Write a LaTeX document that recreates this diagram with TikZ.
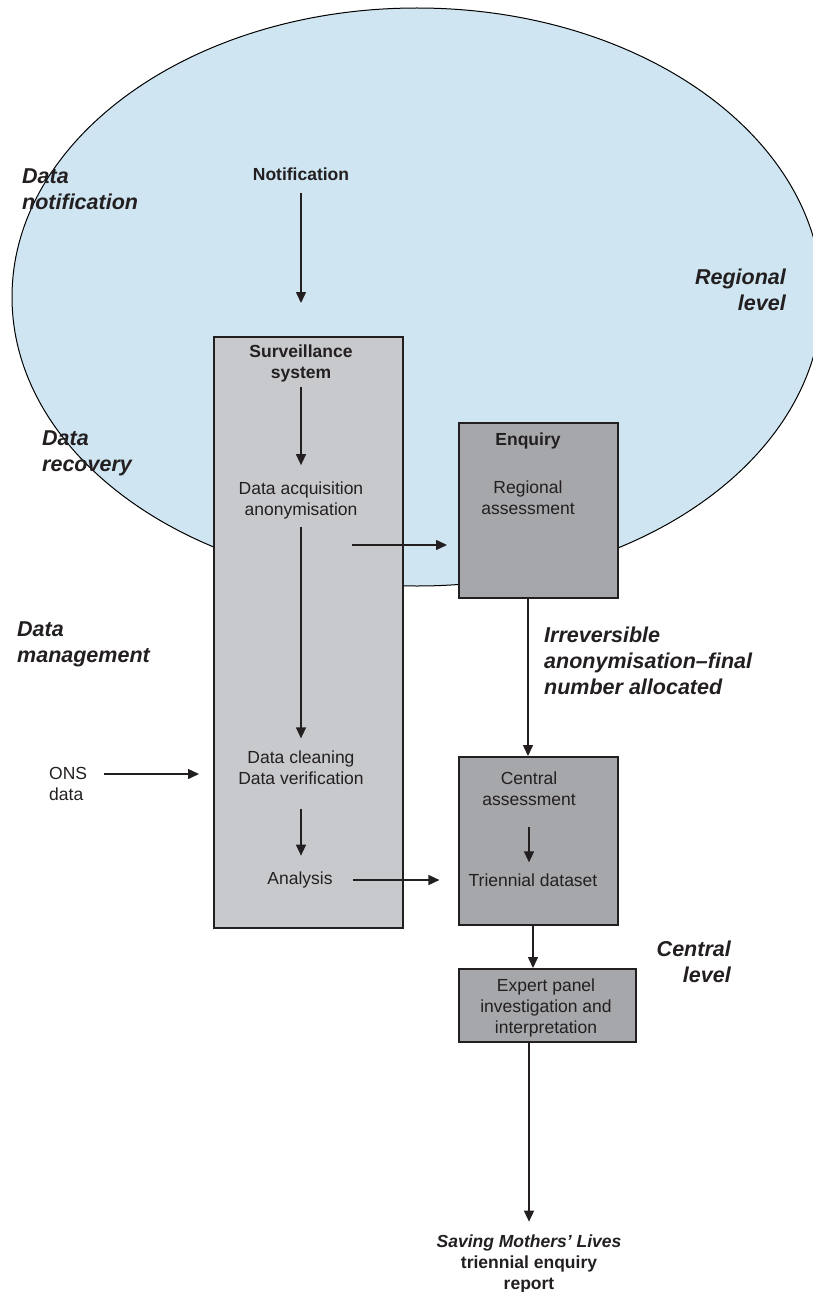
\documentclass[tikz,border=0pt]{standalone}
\usepackage{fontspec}
\setmainfont{Liberation Sans}
\usetikzlibrary{arrows.meta}

\definecolor{regionblue}{RGB}{207,230,242}
\definecolor{survgrey}{RGB}{200,201,204}
\definecolor{enqgrey}{RGB}{166,167,171}
\definecolor{inkgrey}{RGB}{35,31,32}

\tikzset{
  txt/.style      = {inner sep = 0, align = center, text = inkgrey,
                     font = \fontsize{17.5}{21}\selectfont},
  boldtxt/.style  = {txt, font = \fontsize{17.5}{21}\selectfont\bfseries},
  stage/.style    = {inner sep = 0, text = inkgrey,
                     font = \fontsize{21.5}{26}\selectfont\bfseries\itshape},
  lightbox/.style = {draw = inkgrey, line width = 1.5, fill = survgrey,
                     inner sep = 0, anchor = north west},
  darkbox/.style  = {lightbox, fill = enqgrey},
  arr/.style      = {-{Triangle[length=11pt, width=10pt]}, line width = 1.5,
                     draw = inkgrey},
}

\begin{document}
\begin{tikzpicture}[x = 1pt, y = -1pt]
        \useasboundingbox (0, 0) rectangle (813, 1292);
        \clip (0, 0) rectangle (813, 1292);

        % ------------------------------------------------------------------------
        % Regional level
        \draw[fill = regionblue, draw = black, line width = 1]
          (417, 297) ellipse [x radius = 405, y radius = 289];

        % ------------------------------------------------------------------------
        % Boxes
        \node[lightbox, minimum width = 189, minimum height = 591] at (213, 336) (surv) {};
        \node[darkbox,  minimum width = 159, minimum height = 175] at (458, 422) (enqbox) {};
        \node[darkbox,  minimum width = 159, minimum height = 168] at (458, 756) (centbox) {};
        \node[darkbox,  minimum width = 177, minimum height = 73]  at (458, 968) (expertbox) {};

        % ------------------------------------------------------------------------
        % Texts
        \node[boldtxt] at (301, 174)   (notif)      {Notification};
        \node[boldtxt] at (301, 363.5) (survtitle)  {Surveillance\\system};
        \node[txt]     at (301, 500)   (acq)        {Data acquisition\\anonymisation};
        \node[txt]     at (301, 767.5) (clean)      {Data cleaning\\Data verification};
        \node[txt]     at (300, 880)   (analysis)   {Analysis};

        \node[boldtxt] at (528, 441)   (enq)        {Enquiry};
        \node[txt]     at (528, 498)   (regassess)  {Regional\\assessment};
        \node[txt]     at (529, 788.6) (centassess) {Central\\assessment};
        \node[txt]     at (533, 880)   (trien)      {Triennial dataset};
        \node[txt]     at (546, 1008)  (expert)     {Expert panel\\investigation and\\interpretation};
        \node[boldtxt] at (529, 1264)  (report)     {\textit{Saving Mothers' Lives}\\triennial enquiry\\report};

        \node[txt, align = left, anchor = west] at (49, 784) (ons) {ONS\\data};

        \node[stage, align = left,  anchor = west] at (22, 189.6)  (notifstage) {Data\\notification};
        \node[stage, align = left,  anchor = west] at (42, 453.4)  (recstage)   {Data\\recovery};
        \node[stage, align = left,  anchor = west] at (17, 644.4)  (mgmtstage)  {Data\\management};
        \node[stage, align = right, anchor = east] at (786, 290)   (reglevel)   {Regional\\level};
        \node[stage, align = left,  anchor = west] at (544, 660.6) (irrev)      {Irreversible\\anonymisation--final\\number allocated};
        \node[stage, align = right, anchor = east] at (731, 962)   (centlevel)  {Central\\level};

        \coordinate (acqout) at (352, 545);
        \coordinate (onsout) at (104, 774);

        % ------------------------------------------------------------------------
        % Arrows
        \draw[arr, shorten <= 12, shorten >= 33]  (notif.south) -- (notif.south |- surv.north);
        \draw[arr, shorten <= 4.5, shorten >= 16] (survtitle.south) -- (acq.north);
        \draw[arr, shorten <= 8, shorten >= 12]   (acq.south) -- (clean.north -| acq);
        \draw[arr, shorten <= 24, shorten >= 16]  (clean.south) -- (analysis.north -| clean);
        \draw[arr, shorten >= 11]                 (acqout) -- (acqout -| enqbox.west);
        \draw[arr, shorten <= 20, shorten >= 29]  (analysis.east) -- (trien.west);
        \draw[arr, shorten >= 14]                 (onsout) -- (onsout -| surv.west);
        \draw[arr] (enqbox.south -| regassess) -- (centbox.north -| regassess);
        \draw[arr, shorten <= 21, shorten >= 11]  (centassess.south) -- (trien.north -| centassess);
        \draw[arr] (centbox.south -| trien) -- (expertbox.north -| trien);
        \draw[arr, shorten >= 13] (expertbox.south -| report) -- (report.north);
      \end{tikzpicture}
\end{document}
